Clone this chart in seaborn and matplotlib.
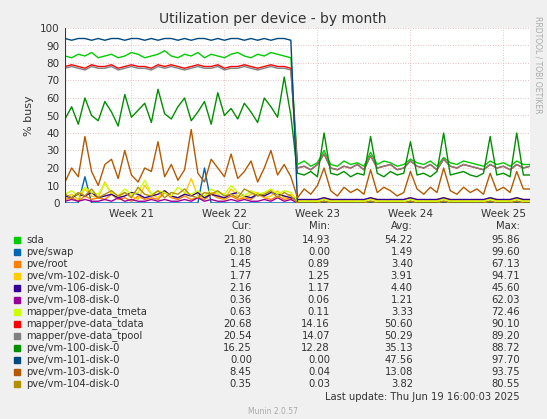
import matplotlib
matplotlib.use("Agg")
import matplotlib.pyplot as plt
import seaborn as sns
import numpy as np
import pandas as pd

sns.set_theme(style="white")
plt.rcParams['font.family'] = ['DejaVu Sans']

t = np.arange(71) * 0.5  # days
week_pos = [5, 12, 19, 26, 33]
week_labels = ["Week 21", "Week 22", "Week 23", "Week 24", "Week 25"]

names = ["sda", "pve/swap", "pve/root", "pve/vm-102-disk-0", "pve/vm-106-disk-0",
         "pve/vm-108-disk-0", "mapper/pve-data_tmeta", "mapper/pve-data_tdata",
         "mapper/pve-data_tpool", "pve/vm-100-disk-0", "pve/vm-101-disk-0",
         "pve/vm-103-disk-0", "pve/vm-104-disk-0"]
colors = ["#00CC00", "#0066B3", "#FF8000", "#FFCC00", "#330099", "#990099", "#CCFF00",
          "#FF0000", "#808080", "#008F00", "#00487D", "#B35A00", "#B38F00"]
cur = ["21.80", "0.18", "1.45", "1.77", "2.16", "0.36", "0.63", "20.68", "20.54", "16.25", "0.00", "8.45", "0.35"]
mn = ["14.93", "0.00", "0.89", "1.25", "1.17", "0.06", "0.11", "14.16", "14.07", "12.28", "0.00", "0.04", "0.03"]
avg = ["54.22", "1.49", "3.40", "3.91", "4.40", "1.21", "3.33", "50.60", "50.29", "35.13", "47.56", "13.08", "3.82"]
mx = ["95.86", "99.60", "67.13", "94.71", "45.60", "62.03", "72.46", "90.10", "89.20", "88.72", "97.70", "93.75", "80.55"]

sda = [84,83,85,84,86,83,84,85,83,84,86,85,83,84,85,87,84,83,85,84,86,83,85,84,83,85,86,84,83,85,84,86,85,84,83,
       22,24,21,23,30,22,21,24,22,23,21,29,22,24,23,21,22,25,23,22,24,21,26,23,22,24,23,22,21,24,22,23,21,24,22,22]
swap = [0,0,0,15,0,0,0,0,0,0,0,0,0,0,0,0,0,0,0,0,0,20,0,0,0,0,0,0,0,0,0,0,0,0,0,
        0,0,0,0,0,0,0,0,0,0,0,0,0,0,0,0,0,0,0,0,0,0,0,0,0,0,0,0,0,0,0,0,0,0,0,0]
root = [2,3,1,4,2,3,2,5,2,3,1,4,2,3,2,6,3,2,4,2,3,2,5,3,2,4,2,3,2,5,3,2,4,2,3,
        1,2,1,1,3,1,2,1,1,2,1,3,1,2,1,1,2,3,1,2,1,1,3,1,2,1,1,2,1,3,1,2,1,3,1,1]
vm102 = [3,5,2,8,4,3,12,5,3,6,4,2,10,5,3,7,4,3,5,14,4,3,6,5,2,8,4,3,5,6,3,4,7,3,5,
         2,1,2,1,3,2,1,2,1,2,1,3,2,1,2,1,2,3,1,2,1,2,3,2,1,2,1,2,1,3,2,1,2,3,2,2]
vm106 = [4,3,5,4,6,3,4,5,3,4,6,5,3,4,5,7,4,3,5,4,6,3,5,4,3,5,6,4,3,5,4,6,5,4,3,
         2,2,2,2,3,2,2,2,2,2,2,3,2,2,2,2,2,3,2,2,2,2,3,2,2,2,2,2,2,3,2,2,2,3,2,2]
vm108 = [1,2,1,2,1,1,2,1,3,1,2,1,1,2,1,2,1,1,2,1,3,1,2,1,1,2,1,2,1,1,2,1,3,1,2,
         0,0,0,0,1,0,0,0,0,0,0,1,0,0,0,0,0,1,0,0,0,0,1,0,0,0,0,0,0,1,0,0,0,1,0,0]
tmeta = [5,7,4,9,6,5,11,6,4,8,5,6,13,5,7,6,4,9,6,5,7,4,8,6,5,10,6,4,7,5,6,8,5,7,6,
         1,1,1,1,2,1,1,1,1,1,1,2,1,1,1,1,1,2,1,1,1,1,2,1,1,1,1,1,1,2,1,1,1,2,1,1]
tdata = [78,79,78,77,79,78,78,79,77,78,79,78,78,77,79,78,79,78,77,78,79,78,78,79,77,78,78,79,78,77,78,79,78,78,77,
         20,21,19,22,28,20,19,21,20,22,19,27,20,21,22,19,20,24,21,20,22,19,25,21,20,22,21,20,19,22,20,21,19,22,20,21]
tpool = [77,78,77,76,78,77,77,78,76,77,78,77,77,76,78,77,78,77,76,77,78,77,77,78,76,77,77,78,77,76,77,78,77,77,76,
         20,21,19,22,28,20,19,21,20,22,19,27,20,21,22,19,20,24,21,20,22,19,25,21,20,22,21,20,19,22,20,21,19,22,20,21]
vm100 = [48,55,45,60,50,47,58,52,44,62,49,53,57,46,65,51,48,55,60,47,52,58,45,63,50,54,48,57,52,46,60,55,49,72,50,
         17,16,18,15,40,17,16,18,15,17,16,38,17,15,18,16,17,35,16,17,15,18,40,16,17,18,16,15,17,38,16,17,15,40,16,16]
vm101 = [94,93,94,94,93,94,93,94,94,93,94,94,93,94,93,94,94,93,94,93,94,94,93,94,93,94,94,93,94,93,94,93,94,94,93,
         0,0,0,0,0,0,0,0,0,0,0,0,0,0,0,0,0,0,0,0,0,0,0,0,0,0,0,0,0,0,0,0,0,0,0,0]
vm103 = [12,20,15,38,18,10,22,25,14,30,16,12,20,18,35,15,22,13,19,42,17,12,25,20,15,28,14,18,24,12,20,30,16,22,15,
         3,8,5,10,20,7,4,9,6,8,5,19,6,9,7,4,6,18,8,5,9,6,20,7,5,9,6,8,5,17,7,9,6,18,8,8]
vm104 = [5,3,6,4,8,3,5,7,4,6,3,9,5,4,7,3,6,5,8,4,3,6,5,7,4,5,3,8,6,4,5,7,3,6,4,
         0,0,0,0,1,0,0,0,0,0,0,1,0,0,0,0,0,1,0,0,0,0,1,0,0,0,0,0,0,1,0,0,0,1,0,0]
series = [sda, swap, root, vm102, vm106, vm108, tmeta, tdata, tpool, vm100, vm101, vm103, vm104]

W, H = 547, 419
fig = plt.figure(figsize=(W/100, H/100), dpi=100, facecolor="#F0F0F0")
ax = fig.add_axes([65/W, 1-203/H, 465/W, 175/H], facecolor="white")

for nm, c, s in zip(names, colors, series):
    sns.lineplot(x=t, y=s, ax=ax, color=c, linewidth=1, legend=False)

ax.set_xlim(0, 35)
ax.set_ylim(0, 100)
ax.set_yticks(range(0, 101, 10))
ax.set_xticks(week_pos)
ax.set_xticklabels(week_labels)
ax.tick_params(labelsize=7.5, length=0, colors="#333333", pad=4)
ax.grid(True, color="#e0b0b0", linestyle=(0, (1, 2)), linewidth=0.6)
for sp in ax.spines.values():
    sp.set_visible(False)
ax.axhline(0, color="#333333", linewidth=0.8)
ax.axvline(0, color="#333333", linewidth=0.8)
ax.set_ylabel("% busy", fontsize=8, color="#333333")

fig.text(273/W, 1-19/H, "Utilization per device - by month", ha="center", va="center", fontsize=10, color="#333333")
fig.text(538/W, 1-65/H, "RRDTOOL / TOBI OETIKER", rotation=270, ha="center", va="center", fontsize=5.5, color="#aaaaaa")

fs = 7.2
y0 = 226
fig.text(252/W, 1-y0/H, "Cur:", ha="right", va="center", fontsize=fs, color="#333333")
fig.text(330/W, 1-y0/H, "Min:", ha="right", va="center", fontsize=fs, color="#333333")
fig.text(413/W, 1-y0/H, "Avg:", ha="right", va="center", fontsize=fs, color="#333333")
fig.text(520/W, 1-y0/H, "Max:", ha="right", va="center", fontsize=fs, color="#333333")
for i, nm in enumerate(names):
    y = 1 - (240 + i*12)/H
    fig.patches.append(plt.Rectangle((14/W, y-3/H), 6/W, 6/H, transform=fig.transFigure, color=colors[i]))
    fig.text(26/W, y, nm, ha="left", va="center", fontsize=fs, color="#333333")
    fig.text(252/W, y, cur[i], ha="right", va="center", fontsize=fs, color="#333333")
    fig.text(330/W, y, mn[i], ha="right", va="center", fontsize=fs, color="#333333")
    fig.text(413/W, y, avg[i], ha="right", va="center", fontsize=fs, color="#333333")
    fig.text(520/W, y, mx[i], ha="right", va="center", fontsize=fs, color="#333333")
fig.text(520/W, 1-397/H, "Last update: Thu Jun 19 16:00:03 2025", ha="right", va="center", fontsize=fs, color="#333333")
fig.text(273/W, 1-411/H, "Munin 2.0.57", ha="center", va="center", fontsize=5.5, color="#aaaaaa")

fig.savefig("out.png", dpi=100, facecolor=fig.get_facecolor())
